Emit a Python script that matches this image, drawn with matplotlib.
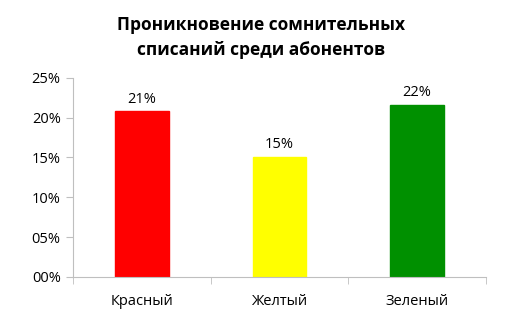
import numpy as np
import matplotlib.pyplot as plt
from matplotlib.ticker import FixedLocator

plt.rcParams['font.family'] = ['Open Sans', 'DejaVu Sans']

categories = ['Красный', 'Желтый', 'Зеленый']
values = [20.8, 15.1, 21.6]
labels = ['21%', '15%', '22%']
colors = ['#ff0000', '#ffff00', '#009000']
yticks = [0, 5, 10, 15, 20, 25]
ytick_labels = ['00%', '05%', '10%', '15%', '20%', '25%']

fig = plt.figure(figsize=(5.12, 3.30), dpi=100)
ax = fig.add_axes([0.143, 0.161, 0.806, 0.603])

x = np.arange(len(categories))
bars = ax.bar(x, values, width=0.39, color=colors, edgecolor=colors)
for b, lab in zip(bars, labels):
    ax.text(b.get_x() + b.get_width() / 2, b.get_height() + 0.6, lab,
            ha='center', va='bottom', fontsize=10.5)

ax.set_xlim(-0.5, len(categories) - 0.5)
ax.set_ylim(0, 25)
ax.set_yticks(yticks)
ax.set_yticklabels(ytick_labels, fontsize=10.5)
ax.set_xticks(x)
ax.set_xticklabels(categories, fontsize=10.5)
ax.xaxis.set_minor_locator(FixedLocator(np.arange(-0.5, len(categories), 1.0)))
ax.tick_params(axis='x', which='major', length=0, pad=12)
ax.tick_params(axis='x', which='minor', length=5, color='#bfbfbf', direction='out')
ax.tick_params(axis='y', length=5, color='#bfbfbf', direction='out', pad=4)

for s in ['top', 'right']:
    ax.spines[s].set_visible(False)
for s in ['left', 'bottom']:
    ax.spines[s].set_color('#bfbfbf')

fig.suptitle('Проникновение сомнительных\nсписаний среди абонентов',
             fontsize=12.5, fontweight='bold', y=0.95, x=0.51, linespacing=1.45)

fig.savefig('out.png', dpi=100)
